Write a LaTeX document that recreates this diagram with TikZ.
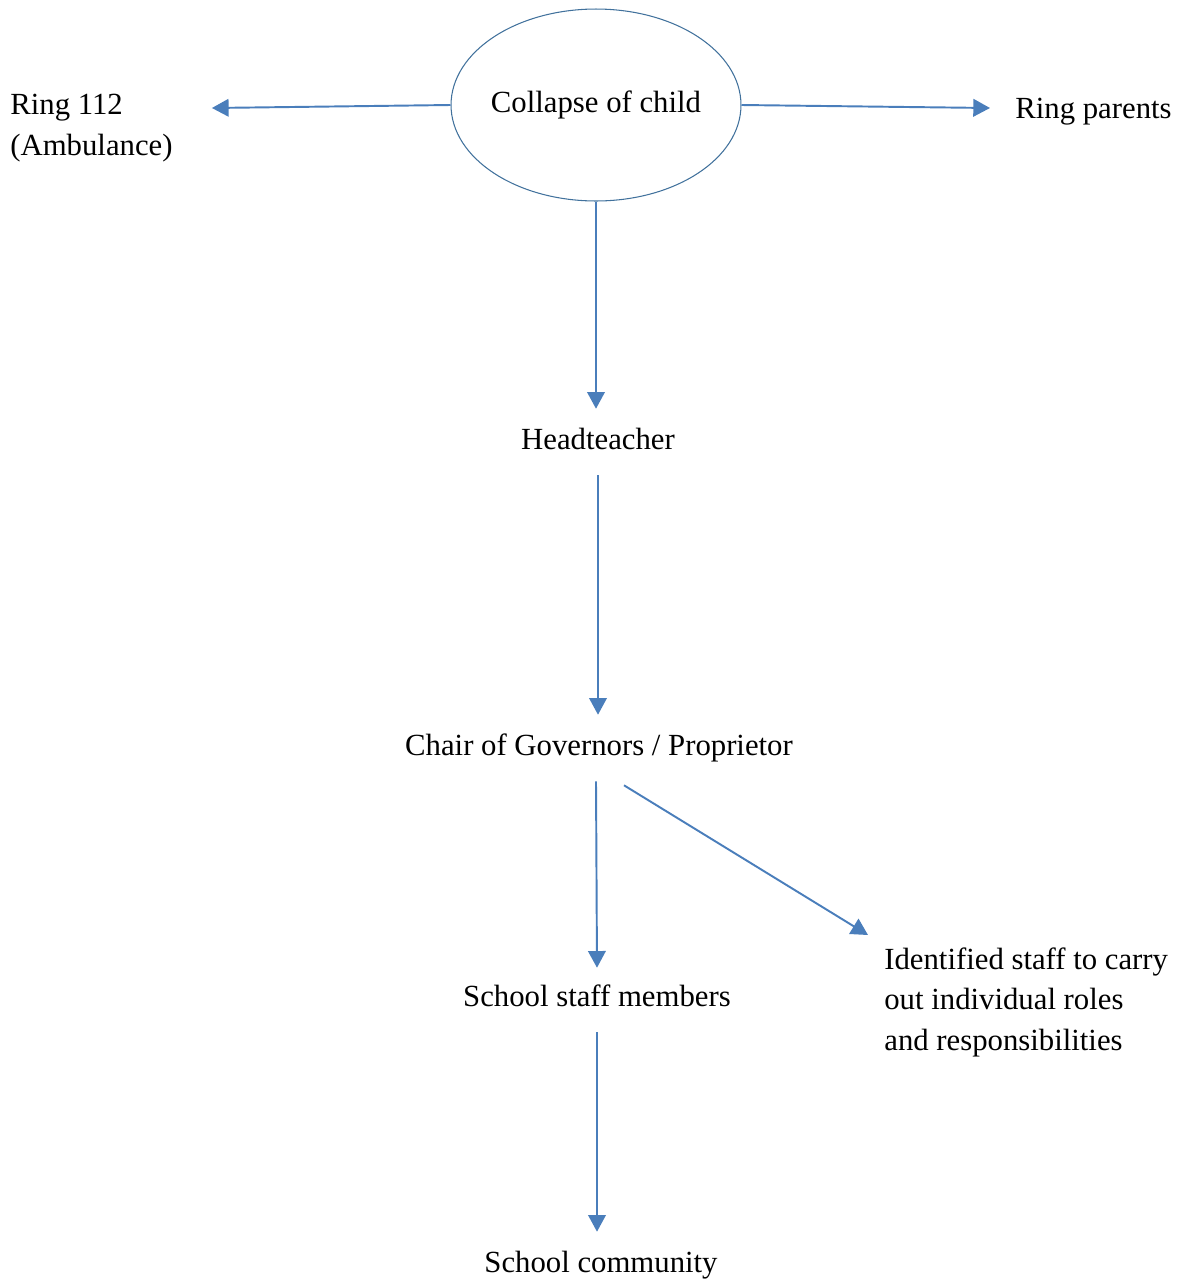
\documentclass[tikz,border=0pt]{standalone}
\usepackage{fontspec}
\setmainfont{Liberation Serif}
\usetikzlibrary{arrows.meta,positioning,calc,shapes.geometric}
\definecolor{Flow}{HTML}{4A7EBB}
\definecolor{Rim}{HTML}{41719C}

\begin{document}
\begin{tikzpicture}[x=0.02cm,y=-0.02cm,
  lbl/.style={inner xsep=0pt,inner ysep=11pt,text height=12pt,text depth=3.5pt,font=\fontsize{17.5}{23.25}\selectfont},
  note/.style={inner sep=0pt,align=left,font=\fontsize{17.5}{23.25}\selectfont},
  oval/.style={ellipse,draw=Rim,line width=0.6pt,inner xsep=-6pt,inner ysep=0pt,minimum width=5.8cm,minimum height=3.84cm,font=\fontsize{17.5}{23.25}\selectfont},
  flow/.style={draw=Flow,line width=1.1pt,-{Triangle[length=9.5pt,width=10pt]}}]
\useasboundingbox (0,0) rectangle (1182,1282);
\node[oval] (collapse) at (596,105) {Collapse of child};
\node[note,anchor=north west] (ambulance) at (10,94) {Ring 112\\(Ambulance)};
\node[lbl,anchor=west] (parents) at (1015,111) {Ring parents};
\node[lbl] (head) at (598,442) {Headteacher};
\node[lbl] (chair) at (599,748) {Chair of Governors / Proprietor};
\node[lbl] (staff) at (597,999) {School staff members};
\node[note,anchor=north west] (roles) at (884,947) {Identified staff to carry\\out individual roles\\and responsibilities};
\node[lbl] (community) at (601,1265) {School community};
\draw[flow] (collapse.west) -- ($(ambulance.north east)+(39,14)$);
\draw[flow] (collapse.east) -- ($(parents.west)+(-25,-3)$);
\draw[flow] (collapse.south) -- (collapse.south |- head.north);
\draw[flow] (head.south) -- (head.south |- chair.north);
\draw[flow] ($(chair.south)+(-3,0)$) -- ($(staff.north)+(0,2)$);
\draw[flow] ($(chair.south)+(25,4)$) -- ($(roles.north west)+(-16,-12)$);
\draw[flow] (staff.south) -- (staff.south |- community.north);
\end{tikzpicture}
\end{document}
